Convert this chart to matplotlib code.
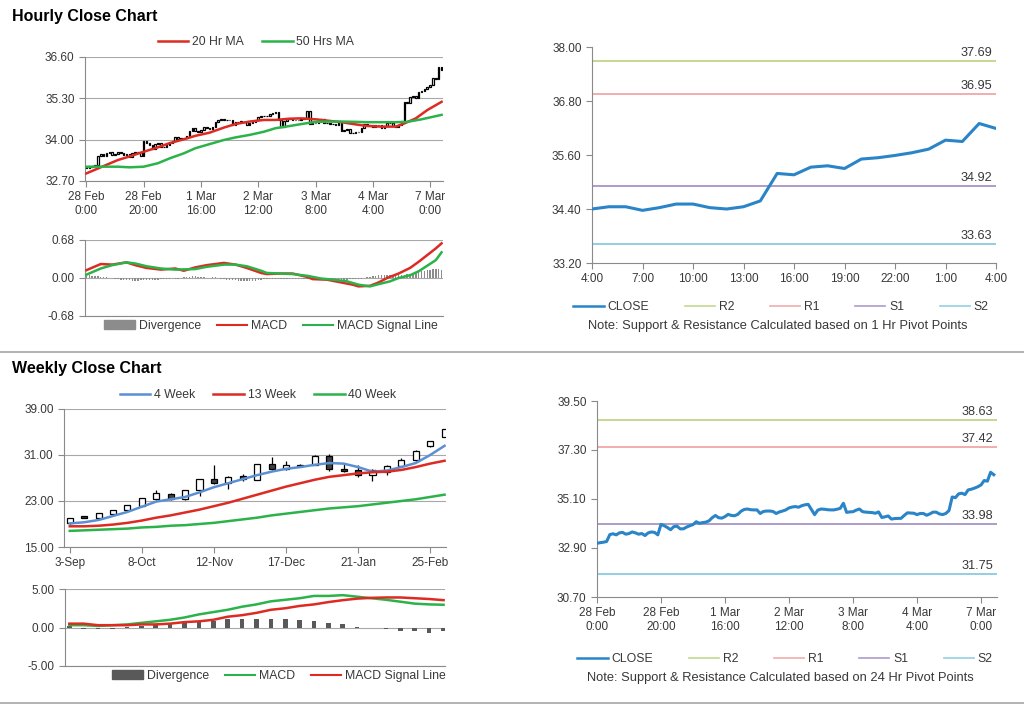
import numpy as np
import matplotlib

matplotlib.use('Agg')
import matplotlib.pyplot as plt
from matplotlib.lines import Line2D
from matplotlib.patches import Patch

plt.rcParams['font.family'] = ['Liberation Sans', 'DejaVu Sans']

# ---------------- hourly data (28 Feb 0:00 .. 7 Mar 4:00, trading hours) ----------------
hourly_close = [
    33.11, 33.14, 33.16, 33.19, 33.50, 33.54, 33.49, 33.58, 33.60, 33.52,
    33.55, 33.62, 33.58, 33.52, 33.55, 33.46, 33.58, 33.62, 33.60, 33.49,
    33.96, 33.90, 33.82, 33.72, 33.86, 33.88, 33.76, 33.76, 33.84, 33.90,
    33.95, 34.08, 34.01, 34.04, 34.06, 34.12, 34.26, 34.36, 34.26, 34.24,
    34.31, 34.41, 34.36, 34.35, 34.41, 34.55, 34.63, 34.65, 34.62, 34.61,
    34.61, 34.45, 34.54, 34.56, 34.56, 34.54, 34.45, 34.52, 34.56, 34.61,
    34.70, 34.74, 34.76, 34.73, 34.80, 34.84, 34.86, 34.63, 34.40, 34.60,
    34.65, 34.64, 34.62, 34.61, 34.61, 34.64, 34.68, 34.91, 34.50, 34.52,
    34.53, 34.60, 34.65, 34.53, 34.51, 34.50, 34.49, 34.46, 34.52, 34.27,
    34.30, 34.34, 34.20, 34.22, 34.23, 34.23, 34.36, 34.48, 34.47, 34.46,
    34.40, 34.45, 34.45, 34.37, 34.43, 34.51, 34.51, 34.43, 34.40, 34.45,
    34.58, 35.19, 35.16, 35.33, 35.36, 35.30, 35.51, 35.54, 35.59, 35.65,
    35.73, 35.93, 35.90, 36.30, 36.19]

ma20_idx = [0, 6, 11, 15, 20, 25, 29, 34, 38, 43, 48, 52, 57, 62, 66, 71, 75, 80,
            85, 89, 94, 98, 103, 108, 111, 115, 119, 124]
ma20 = [32.94, 33.17, 33.36, 33.47, 33.62, 33.76, 33.89, 34.01, 34.12, 34.22, 34.38,
        34.49, 34.57, 34.62, 34.62, 34.66, 34.67, 34.64, 34.59, 34.55, 34.48, 34.43,
        34.41, 34.41, 34.51, 34.67, 34.93, 35.19]
ma50_idx = [0, 6, 11, 15, 20, 25, 29, 34, 38, 43, 48, 52, 57, 62, 66, 71, 75, 80,
            85, 89, 94, 98, 103, 108, 112, 117, 124]
ma50 = [33.15, 33.15, 33.15, 33.13, 33.15, 33.26, 33.41, 33.57, 33.73, 33.86, 33.99,
        34.07, 34.15, 34.25, 34.36, 34.43, 34.49, 34.56, 34.57, 34.57, 34.56, 34.55,
        34.55, 34.55, 34.56, 34.64, 34.78]

hourly_div = [
    0.04, 0.05, 0.04, 0.03, 0.03, 0.02, 0.02, 0.01, 0.00, 0.00,
    -0.02, -0.02, -0.03, -0.03, -0.04, -0.04, -0.05, -0.05, -0.05, -0.04,
    -0.04, -0.04, -0.03, -0.03, -0.03, -0.03, -0.02, -0.02, -0.02, -0.01,
    0.00, -0.01, -0.01, 0.00, 0.01, 0.01, 0.02, 0.03, 0.03, 0.02,
    0.02, 0.01, 0.00, 0.00, 0.01, 0.02, 0.00, -0.01, -0.02, -0.03,
    -0.03, -0.04, -0.04, -0.05, -0.05, -0.06, -0.06, -0.06, -0.05, -0.05,
    -0.04, -0.03, -0.02, -0.02, -0.01, -0.01, -0.01, -0.02, -0.02, -0.02,
    -0.01, -0.01, -0.01, -0.01, -0.02, -0.02, -0.02, -0.01, -0.02, -0.02,
    -0.02, -0.03, -0.03, -0.03, -0.03, -0.03, -0.03, -0.03, -0.03, -0.03,
    -0.03, -0.03, -0.02, -0.02, -0.02, -0.01, -0.01, 0.00, 0.01, 0.02,
    0.03, 0.04, 0.05, 0.05, 0.05, 0.05, 0.06, 0.06, 0.05, 0.05,
    0.06, 0.06, 0.07, 0.08, 0.09, 0.10, 0.11, 0.12, 0.13, 0.14,
    0.15, 0.16, 0.17, 0.16, 0.15]
macd_idx = [0, 5, 9, 14, 17, 21, 26, 31, 34, 38, 42, 48, 52, 56, 61, 63, 68, 72, 77,
            79, 84, 88, 93, 95, 99, 102, 105, 109, 113, 116, 119, 122, 124]
hourly_macd = [0.14, 0.25, 0.24, 0.28, 0.23, 0.18, 0.15, 0.17, 0.13, 0.19, 0.23, 0.27,
               0.24, 0.18, 0.09, 0.07, 0.08, 0.08, 0.02, -0.02, -0.03, -0.07, -0.12,
               -0.15, -0.14, -0.08, 0.00, 0.08, 0.18, 0.29, 0.41, 0.53, 0.62]
signal_idx = [0, 5, 9, 14, 17, 21, 26, 31, 38, 42, 48, 52, 56, 61, 63, 68, 72, 77, 82,
              86, 91, 95, 99, 102, 106, 109, 113, 116, 119, 122, 124]
hourly_signal = [0.06, 0.17, 0.23, 0.28, 0.26, 0.21, 0.17, 0.15, 0.16, 0.20, 0.24, 0.24,
                 0.21, 0.13, 0.09, 0.08, 0.07, 0.04, -0.01, -0.03, -0.06, -0.12, -0.15,
                 -0.11, -0.06, 0.00, 0.05, 0.12, 0.22, 0.32, 0.46]

hour_ticks = [0, 20, 40, 60, 80, 100, 120]
hour_labels = ['28 Feb\n0:00', '28 Feb\n20:00', '1 Mar\n16:00', '2 Mar\n12:00',
               '3 Mar\n8:00', '4 Mar\n4:00', '7 Mar\n0:00']
last_day_labels = ['4:00', '7:00', '10:00', '13:00', '16:00', '19:00', '22:00', '1:00', '4:00']

pivot_1h = {'R2': 37.69, 'R1': 36.95, 'S1': 34.92, 'S2': 33.63}
pivot_24h = {'R2': 38.63, 'R1': 37.42, 'S1': 33.98, 'S2': 31.75}

# ---------------- weekly data (3-Sep .. 4-Mar) ----------------
w_open = [19.1, 20.3, 20.1, 20.8, 21.5, 22.2, 23.3, 24.2, 23.3, 24.9, 26.8, 26.2, 27.3, 26.7,
          29.4, 28.5, 29.0, 29.3, 30.8, 28.6, 28.3, 27.5, 28.1, 29.0, 30.1, 32.5, 34.2]
w_close = [20.0, 20.1, 20.9, 21.4, 22.2, 23.4, 24.3, 23.4, 24.8, 26.8, 26.2, 27.2, 26.9, 29.3,
           28.5, 29.2, 29.2, 30.8, 28.5, 28.3, 27.5, 28.4, 29.1, 30.1, 31.7, 33.4, 35.5]
w_high = [20.1, 20.4, 21.0, 21.5, 22.3, 23.6, 25.0, 24.4, 24.9, 26.9, 29.3, 27.4, 27.7, 29.4,
          30.6, 29.9, 29.4, 31.0, 31.2, 29.4, 29.3, 28.5, 29.3, 30.4, 31.8, 33.5, 35.6]
w_low = [19.0, 20.0, 20.0, 20.7, 21.4, 22.1, 23.2, 23.2, 23.2, 23.9, 26.0, 25.1, 26.5, 26.6,
         28.4, 28.4, 28.9, 29.2, 28.3, 28.1, 27.1, 26.4, 27.6, 28.9, 30.0, 32.4, 34.1]
ma4w = [19.1, 19.3, 19.7, 20.4, 21.1, 22.0, 22.9, 23.3, 23.7, 24.5, 25.4, 26.1, 26.8, 27.5,
        28.1, 28.6, 28.9, 29.3, 29.6, 29.5, 28.9, 28.1, 28.3, 28.9, 29.6, 31.0, 32.6]
ma13w = [18.6, 18.6, 18.7, 18.9, 19.2, 19.6, 20.1, 20.5, 21.0, 21.5, 22.1, 22.7, 23.4, 24.1,
         24.8, 25.5, 26.1, 26.7, 27.2, 27.5, 27.8, 28.0, 28.1, 28.4, 28.9, 29.5, 30.0]
ma40w = [17.8, 17.9, 18.0, 18.1, 18.2, 18.4, 18.5, 18.7, 18.8, 19.0, 19.2, 19.5, 19.8, 20.1,
         20.5, 20.8, 21.1, 21.4, 21.7, 21.9, 22.1, 22.4, 22.7, 23.0, 23.3, 23.7, 24.1]
w_div = [0.2, -0.2, -0.2, -0.2, 0.1, 0.2, 0.3, 0.4, 0.6, 0.7, 0.9, 1.1, 1.1, 1.1,
         1.1, 1.1, 1.0, 0.9, 0.6, 0.5, 0.1, -0.1, -0.2, -0.5, -0.5, -0.7, -0.5]
w_macd = [0.3, 0.3, 0.2, 0.3, 0.4, 0.6, 0.8, 1.0, 1.3, 1.7, 2.0, 2.3, 2.7, 3.0,
          3.4, 3.6, 3.8, 4.1, 4.1, 4.2, 4.0, 3.8, 3.6, 3.35, 3.1, 3.0, 2.95]
w_signal = [0.5, 0.5, 0.3, 0.3, 0.3, 0.4, 0.4, 0.5, 0.7, 0.8, 1.0, 1.4, 1.6, 1.9,
            2.3, 2.5, 2.8, 3.0, 3.3, 3.55, 3.75, 3.85, 3.9, 3.9, 3.8, 3.7, 3.55]
week_ticks = [0, 5, 10, 15, 20, 25]
week_labels = ['3-Sep', '8-Oct', '12-Nov', '17-Dec', '21-Jan', '25-Feb']

RED = '#dd2a22'
GREEN = '#2bb34a'
TXT = '#383838'
AXC = '#8a8a8a'
pivot_colors = {'R2': '#c4d88f', 'R1': '#f2adac', 'S1': '#ad9bcb', 'S2': '#92cfe3'}
CLOSE_C = '#2a84c8'
TICK_FS = 8.5
LEG_FS = 8.8

W, H = 1024, 706
fig = plt.figure(figsize=(W / 100, H / 100), dpi=100)


def box(x0, y0, x1, y1):
    return [x0 / W, 1 - y1 / H, (x1 - x0) / W, (y1 - y0) / H]


def style(ax, grid=True):
    for s in ['top', 'right']:
        ax.spines[s].set_visible(False)
    for s in ['left', 'bottom']:
        ax.spines[s].set_color(AXC)
    ax.tick_params(colors=AXC, labelcolor=TXT, labelsize=TICK_FS, length=4, direction='out')
    if grid:
        ax.yaxis.grid(True, color='#a8a8a8', lw=0.8)
        ax.set_axisbelow(True)


def fig_legend(handles, labels, cx, cy, colsp=1.5):
    fig.legend(handles, labels, loc='center', bbox_to_anchor=(cx / W, 1 - cy / H),
               ncol=len(handles), frameon=False, fontsize=LEG_FS, labelcolor=TXT,
               handlelength=2.5, handletextpad=0.3, columnspacing=colsp)


hours = np.arange(len(hourly_close))
close = np.array(hourly_close)
opens = np.r_[close[0], close[:-1]]

# ---------------- hourly candles ----------------
ax1 = fig.add_axes(box(85, 57, 443, 181))
style(ax1)
lo = np.minimum(opens, close)
hi = np.maximum(opens, close)
ax1.bar(hours, np.maximum(hi - lo, 0.015), bottom=lo, width=0.55, color='white',
        edgecolor='black', linewidth=0.9, zorder=3)
ax1.plot(ma20_idx, ma20, color=RED, lw=1.8, zorder=4)
ax1.plot(ma50_idx, ma50, color=GREEN, lw=1.8, zorder=4)
ax1.set_xlim(-0.5, 124.5)
ax1.set_ylim(32.7, 36.6)
ax1.set_yticks([32.7, 34.0, 35.3, 36.6])
ax1.yaxis.set_major_formatter(matplotlib.ticker.FormatStrFormatter('%.2f'))
ax1.set_xticks(hour_ticks)
ax1.set_xticklabels(hour_labels, linespacing=1.2)
fig_legend([Line2D([], [], color=RED, lw=1.8), Line2D([], [], color=GREEN, lw=1.8)],
           ['20 Hr MA', '50 Hrs MA'], 256, 42)

# ---------------- hourly MACD ----------------
ax2 = fig.add_axes(box(85, 240, 443, 316))
style(ax2)
ax2.bar(hours, hourly_div, width=0.5, color='#8c8c8c', zorder=2)
ax2.plot(macd_idx, hourly_macd, color=RED, lw=1.8, zorder=3)
ax2.plot(signal_idx, hourly_signal, color=GREEN, lw=1.8, zorder=3)
ax2.set_xlim(-0.5, 124.5)
ax2.set_ylim(-0.68, 0.68)
ax2.set_yticks([-0.68, 0, 0.68])
ax2.yaxis.set_major_formatter(matplotlib.ticker.FormatStrFormatter('%.2f'))
ax2.set_xticks([])
fig_legend([Patch(color='#8c8c8c'), Line2D([], [], color=RED, lw=1.5),
            Line2D([], [], color=GREEN, lw=1.5)],
           ['Divergence', 'MACD', 'MACD Signal Line'], 271, 326, colsp=1.3)


def pivot_chart(ax, x, y, pivots, xticks, xlabels):
    style(ax, grid=False)
    ax.plot(x, y, color=CLOSE_C, lw=2.2, zorder=3)
    for name, v in pivots.items():
        ax.axhline(v, color=pivot_colors[name], lw=1.4, zorder=2)
        ax.annotate('%.2f' % v, xy=(0.99, v), xycoords=('axes fraction', 'data'),
                    xytext=(0, 1.5), textcoords='offset points', ha='right', va='bottom',
                    fontsize=9.2, color=TXT)
    ax.set_xticks(xticks)
    ax.set_xticklabels(xlabels, linespacing=1.2)


leg_handles = [Line2D([], [], color=CLOSE_C, lw=1.8)] + \
              [Line2D([], [], color=pivot_colors[k], lw=1.2) for k in ['R2', 'R1', 'S1', 'S2']]
leg_labels = ['CLOSE', 'R2', 'R1', 'S1', 'S2']

# ---------------- last 24 hours with 1 Hr pivots ----------------
ax3 = fig.add_axes(box(592, 47, 996, 263))
pivot_chart(ax3, hours[100:], close[100:], pivot_1h, list(range(100, 125, 3)), last_day_labels)
ax3.set_xlim(100, 124)
ax3.set_ylim(33.2, 38.0)
ax3.set_yticks([33.2, 34.4, 35.6, 36.8, 38.0])
ax3.yaxis.set_major_formatter(matplotlib.ticker.FormatStrFormatter('%.2f'))
fig_legend(leg_handles, leg_labels, 781, 307, colsp=2.9)
fig.text(778 / W, 1 - 326 / H, 'Note: Support & Resistance Calculated based on 1 Hr Pivot Points',
         ha='center', va='center', fontsize=9.3, color=TXT)

# ---------------- weekly candles ----------------
weeks = np.arange(len(w_close))
ax4 = fig.add_axes(box(64, 409, 446, 547))
style(ax4)
wo, wc = np.array(w_open), np.array(w_close)
up = wc >= wo
ax4.vlines(weeks, w_low, w_high, color='black', lw=0.9, zorder=3)
ax4.bar(weeks, np.abs(wc - wo) + 0.05, bottom=np.minimum(wo, wc), width=0.42,
        color=np.where(up, 'white', '#404040'), edgecolor='black', linewidth=0.9, zorder=4)
ax4.plot(weeks, ma4w, color='#5b8fd4', lw=1.8, zorder=5)
ax4.plot(weeks, ma13w, color=RED, lw=1.8, zorder=5)
ax4.plot(weeks, ma40w, color=GREEN, lw=1.8, zorder=5)
ax4.set_xlim(-0.4, 26.1)
ax4.set_ylim(15, 39)
ax4.set_yticks([15, 23, 31, 39])
ax4.yaxis.set_major_formatter(matplotlib.ticker.FormatStrFormatter('%.2f'))
ax4.set_xticks(week_ticks)
ax4.set_xticklabels(week_labels)
fig_legend([Line2D([], [], color='#5b8fd4', lw=1.8), Line2D([], [], color=RED, lw=1.8),
            Line2D([], [], color=GREEN, lw=1.8)],
           ['4 Week', '13 Week', '40 Week'], 258, 395)

# ---------------- weekly MACD ----------------
ax5 = fig.add_axes(box(65, 589, 445, 666))
style(ax5)
ax5.bar(weeks, w_div, width=0.32, color='#595959', zorder=2)
ax5.plot(weeks, w_macd, color=GREEN, lw=1.8, zorder=3)
ax5.plot(weeks, w_signal, color=RED, lw=1.8, zorder=3)
ax5.set_xlim(-0.3, 26.1)
ax5.set_ylim(-5, 5)
ax5.set_yticks([-5, 0, 5])
ax5.yaxis.set_major_formatter(matplotlib.ticker.FormatStrFormatter('%.2f'))
ax5.set_xticks([])
fig_legend([Patch(color='#595959'), Line2D([], [], color=GREEN, lw=1.5),
            Line2D([], [], color=RED, lw=1.5)],
           ['Divergence', 'MACD', 'MACD Signal Line'], 279, 676, colsp=1.3)

# ---------------- hourly close with 24 Hr pivots ----------------
ax6 = fig.add_axes(box(597, 401, 997, 597))
pivot_chart(ax6, hours, close, pivot_24h, hour_ticks, hour_labels)
ax6.set_xlim(0, 125)
ax6.set_ylim(30.7, 39.5)
ax6.set_yticks([30.7, 32.9, 35.1, 37.3, 39.5])
ax6.yaxis.set_major_formatter(matplotlib.ticker.FormatStrFormatter('%.2f'))
fig_legend(leg_handles, leg_labels, 785, 659, colsp=2.9)
fig.text(780 / W, 1 - 678 / H, 'Note: Support & Resistance Calculated based on 24 Hr Pivot Points',
         ha='center', va='center', fontsize=9.3, color=TXT)

# ---------------- titles and separators ----------------
fig.text(12 / W, 1 - 16 / H, 'Hourly Close Chart', fontsize=11.5, fontweight='bold',
         va='center', ha='left', color='black')
fig.text(12 / W, 1 - 369 / H, 'Weekly Close Chart', fontsize=11.5, fontweight='bold',
         va='center', ha='left', color='black')
for yy in [352, 703]:
    fig.add_artist(Line2D([0, 1], [1 - yy / H, 1 - yy / H], transform=fig.transFigure,
                          color='#a6a6a6', lw=1.2))

fig.savefig('out.png', dpi=100, facecolor='white')
